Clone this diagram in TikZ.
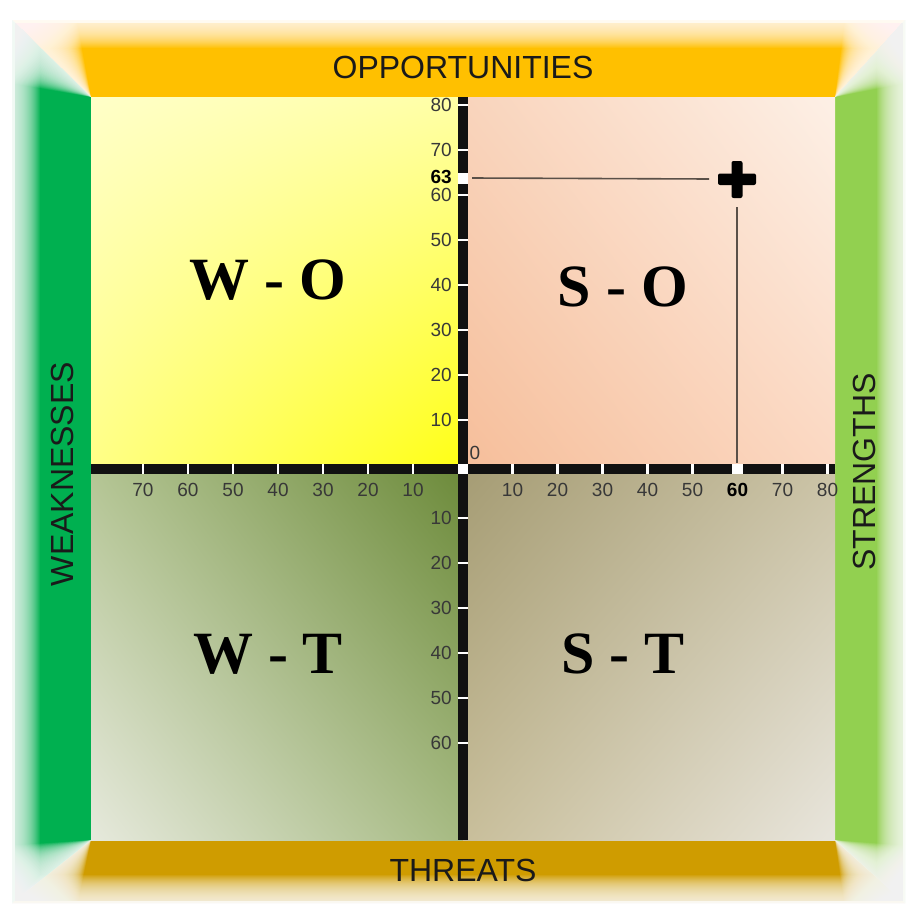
\documentclass[tikz,border=0pt]{standalone}
\usepackage{fontspec}
\setmainfont{Liberation Sans}
\newfontfamily\quadfont{Liberation Serif}
\usetikzlibrary{shadings}
\begin{document}
\begin{tikzpicture}[x=1pt,y=-1pt,
  axisnum/.style={inner sep=0pt, text=numgray, font=\fontsize{19}{19}\selectfont},
  axisbold/.style={inner sep=0pt, text=black, font=\fontsize{19}{19}\selectfont\bfseries},
  quadlabel/.style={inner sep=0pt, font=\fontsize{60}{60}\selectfont\quadfont\bfseries},
  sidelabel/.style={inner sep=0pt, text=labelblack, font=\fontsize{32}{32}\selectfont},
  tickmark/.style={white, line width=2.2pt},
  glow/.style={fill=white, fill opacity=0.065},
  guide/.style={draw=guidegray, line width=1.6pt}]
\definecolor{bandTop}{HTML}{FFC000}
\definecolor{bandBottom}{HTML}{CF9C00}
\definecolor{bandLeft}{HTML}{00B050}
\definecolor{bandRight}{HTML}{92D050}
\definecolor{numgray}{HTML}{383838}
\definecolor{labelblack}{HTML}{1A1A1A}
\definecolor{axisblack}{HTML}{111111}
\definecolor{guidegray}{HTML}{5A5048}

\useasboundingbox (0,0) rectangle (907,910);
\fill[white] (0,0) rectangle (907,910);

% bevelled frame around the matrix
\fill[bandTop]    (91,97) -- (835,97) -- (905,20) -- (12,20) -- cycle;
\fill[bandBottom] (91,840) -- (835,840) -- (905,903) -- (12,903) -- cycle;
\fill[bandLeft]   (91,97) -- (91,840) -- (12,903) -- (12,20) -- cycle;
\fill[bandRight]  (835,97) -- (835,840) -- (905,903) -- (905,20) -- cycle;

% soft outer edge of the frame
\foreach \w in {2,4,...,56}
  \draw[white, opacity=0.065, line width=\w pt] (12,20) rectangle (905,903);
\draw[white, opacity=0.7, line width=5pt] (12,20) rectangle (905,903);

% soft white mitre lines at the frame corners
\foreach \a in {3,6,...,93} {
  \path[glow] (91,97)   -- ({-5+0.707*\a},{3-0.707*\a})    -- ({-5-0.707*\a},{3+0.707*\a}) -- cycle;
  \path[glow] (835,97)  -- ({922-0.707*\a},{1-0.707*\a})   -- ({922+0.707*\a},{1+0.707*\a}) -- cycle;
  \path[glow] (91,840)  -- ({-5-0.707*\a},{917-0.707*\a})  -- ({-5+0.707*\a},{917+0.707*\a}) -- cycle;
  \path[glow] (835,840) -- ({922+0.707*\a},{918-0.707*\a}) -- ({922-0.707*\a},{918+0.707*\a}) -- cycle;
}

% the four quadrants
\definecolor{woUL}{HTML}{FFFFC8}\definecolor{woUR}{HTML}{FFFFA6}
\definecolor{woLL}{HTML}{FFFF86}\definecolor{woLR}{HTML}{FFFF14}
\definecolor{soUL}{HTML}{F9D4BC}\definecolor{soUR}{HTML}{FDF0E6}
\definecolor{soLL}{HTML}{F6BE9A}\definecolor{soLR}{HTML}{FBD8C2}
\definecolor{wtUL}{HTML}{B4C594}\definecolor{wtUR}{HTML}{6C8A3A}
\definecolor{wtLL}{HTML}{E6E9DC}\definecolor{wtLR}{HTML}{A6BA82}
\definecolor{stUL}{HTML}{A59C74}\definecolor{stUR}{HTML}{CBC3A6}
\definecolor{stLL}{HTML}{C8BE9A}\definecolor{stLR}{HTML}{E8E5DC}
\shade[upper left=woUL, upper right=woUR, lower left=woLL, lower right=woLR] (91,97) rectangle (462.5,468.5);
\shade[upper left=soUL, upper right=soUR, lower left=soLL, lower right=soLR] (462.5,97) rectangle (835,468.5);
\shade[upper left=wtUL, upper right=wtUR, lower left=wtLL, lower right=wtLR] (91,468.5) rectangle (462.5,840);
\shade[upper left=stUL, upper right=stUR, lower left=stLL, lower right=stLR] (462.5,468.5) rectangle (835,840);

% axes
\fill[axisblack] (91,463.5) rectangle (835,473.5);
\fill[axisblack] (457.5,97) rectangle (467.5,840);

% ticks and numbers: right half of the horizontal axis
\foreach \v in {10,20,30,40,50,70,80} {
  \draw[tickmark] ({467.5+4.5*\v},463.5) -- ({467.5+4.5*\v},473.5);
  \node[axisnum] (xr\v) at ({467.5+4.5*\v},490) {\v};
}
% left half of the horizontal axis
\foreach \v in {10,20,30,40,50,60,70} {
  \draw[tickmark] ({458-4.5*\v},463.5) -- ({458-4.5*\v},473.5);
  \node[axisnum] (xl\v) at ({458-4.5*\v},490) {\v};
}
% upper half of the vertical axis (60 sits just under the selected 63)
\foreach \v in {10,20,30,40,50,60,70,80}
  \draw[tickmark] (457.5,{465-4.5*\v}) -- (467.5,{465-4.5*\v});
\foreach \v in {10,20,30,40,50,70,80}
  \node[axisnum, anchor=east] (yu\v) at (452,{465-4.5*\v}) {\v};
\node[axisnum, anchor=east] (yu60) at (452,194.5) {60};
% lower half of the vertical axis
\foreach \v in {10,20,30,40,50,60} {
  \draw[tickmark] (457.5,{473+4.5*\v}) -- (467.5,{473+4.5*\v});
  \node[axisnum, anchor=east] (yd\v) at (452,{473+4.5*\v}) {\v};
}
\node[axisnum] (origin0) at (475,453) {0};

% origin and the selected values on both axes
\fill[white] (457.5,463.5) rectangle (467.5,473.5);
\fill[white] (457.5,173) rectangle (467.5,184);
\fill[white] (732,463.5) rectangle (743,473.5);
\node[axisbold, anchor=east] (ysel) at (452,177) {63};
\node[axisbold] (xsel) at (737.5,490) {60};

% position marker with its guide lines
\coordinate (yline) at (472,178);
\coordinate (xline) at (737,463);
\coordinate (mark) at (737,179);
\fill[black, rounded corners=2pt] (718,173.5) rectangle (756,185);
\fill[black, rounded corners=2pt] (731.5,161) rectangle (742.5,198);
\draw[guide] (yline) -- ([xshift=-28pt]mark);
\draw[guide] ([yshift=-28pt]mark) -- (xline);

% quadrant names
\node[quadlabel] (wo) at (268,280) {W - O};
\node[quadlabel] (so) at (623,287) {S - O};
\node[quadlabel] (wt) at (268,654) {W - T};
\node[quadlabel] (st) at (623,654) {S - T};

% frame captions
\node[sidelabel] (opp) at (463,67) {OPPORTUNITIES};
\node[sidelabel] (thr) at (463,870) {THREATS};
\node[sidelabel, rotate=90] (weak) at (62,474) {WEAKNESSES};
\node[sidelabel, rotate=90] (str) at (864,472) {STRENGTHS};
\end{tikzpicture}
\end{document}
